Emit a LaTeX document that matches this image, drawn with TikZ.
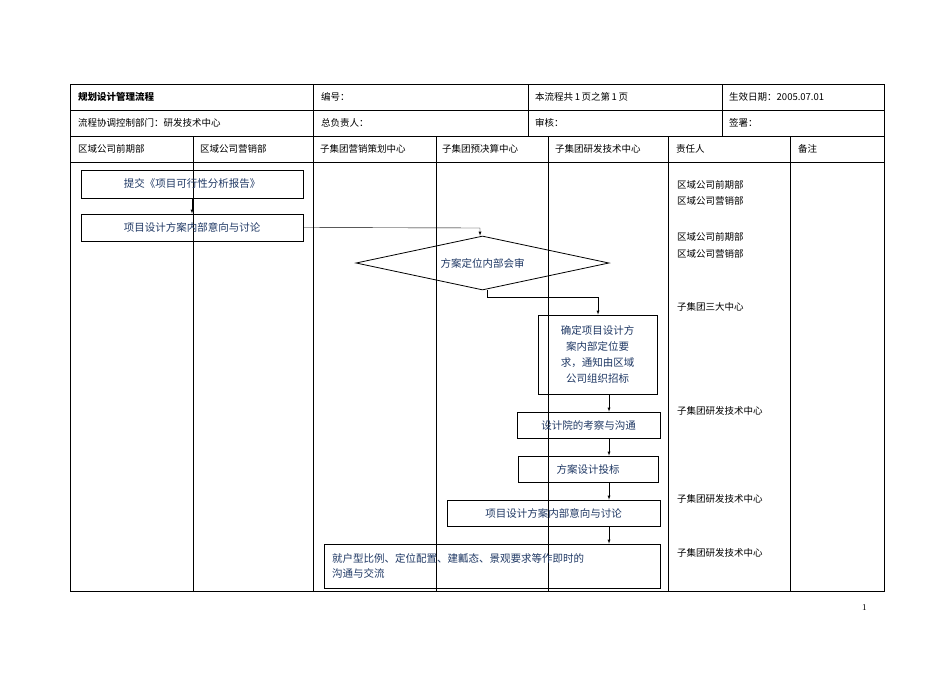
\documentclass[tikz,border=0pt]{standalone}
\usepackage{fontspec}
\setmainfont{Liberation Serif}
\newfontfamily\cjk{Noto Sans CJK SC}
\usetikzlibrary{shapes.geometric}
\definecolor{flowblue}{RGB}{31,56,100}
\tikzset{
	cell/.style={anchor=west, inner sep=0pt, font=\cjk\fontsize{9.5}{11}\selectfont},
	flowbox/.style={draw, thick, text=flowblue, font=\cjk\fontsize{10.5}{14}\selectfont, inner sep=0pt},
	flowarrow/.style={->, >=latex, thin}
}
\begin{document}
\begin{tikzpicture}[x=1pt, y=-1pt]
	\useasboundingbox (0,0) rectangle (950,672);
	%Table
	\draw[thin] (70,84) rectangle (884,591);
	\foreach \y in {110,136,162} \draw[thin] (70,\y) -- (884,\y);
	\foreach \x in {313,528,722} \draw[thin] (\x,84) -- (\x,136);
	\foreach \x in {193,313,436,548,668,790} \draw[thin] (\x,136) -- (\x,591);
	\node[cell, font=\cjk\bfseries\fontsize{9.5}{11}\selectfont] (title) at (78,97) {规划设计管理流程};
	\node[cell] (code) at (321,97) {编号：};
	\node[cell] (page) at (535,97) {本流程共\,1\,页之第\,1\,页};
	\node[cell] (date) at (729,97) {生效日期：2005.07.01};
	\node[cell] (dept) at (78,123) {流程协调控制部门：研发技术中心};
	\node[cell] (head) at (321,123) {总负责人：};
	\node[cell] (check) at (535,123) {审核：};
	\node[cell] (sign) at (729,123) {签署：};
	\node[cell] (lane1) at (78,149) {区域公司前期部};
	\node[cell] (lane2) at (200,149) {区域公司营销部};
	\node[cell] (lane3) at (320,149) {子集团营销策划中心};
	\node[cell] (lane4) at (442,149) {子集团预决算中心};
	\node[cell] (lane5) at (555,149) {子集团研发技术中心};
	\node[cell] (lane6) at (676,149) {责任人};
	\node[cell] (lane7) at (798,149) {备注};
	%Owners
	\node[cell] (r1) at (677,185) {区域公司前期部};
	\node[cell] (r2) at (677,201) {区域公司营销部};
	\node[cell] (r3) at (677,237) {区域公司前期部};
	\node[cell] (r4) at (677,254) {区域公司营销部};
	\node[cell] (r5) at (677,307) {子集团三大中心};
	\node[cell] (r6) at (677,411) {子集团研发技术中心};
	\node[cell] (r7) at (677,499) {子集团研发技术中心};
	\node[cell] (r8) at (677,553) {子集团研发技术中心};
	\node[cell, font=\fontsize{9}{11}\selectfont] (pg) at (862,608) {1};
	%Flow
	\node[flowbox, minimum width=222pt, minimum height=28pt] (submit) at (192,184) {提交《项目可行性分析报告》};
	\node[flowbox, minimum width=222pt, minimum height=27pt] (discuss) at (192,227.5) {项目设计方案内部意向与讨论};
	\node[flowbox, diamond, aspect=4.7, minimum width=253pt, minimum height=54pt] (review) at (482.5,263) {方案定位内部会审};
	\node[flowbox, minimum width=119pt, minimum height=79pt, align=center, font=\cjk\fontsize{10.5}{16}\selectfont] (confirm) at (597.5,354.5) {确定项目设计方\\案内部定位要\\求，通知由区域\\公司组织招标};
	\node[flowbox, minimum width=143pt, minimum height=26pt] (visit) at (588.5,425) {设计院的考察与沟通};
	\node[flowbox, minimum width=140pt, minimum height=26pt] (bid) at (588,469) {方案设计投标};
	\node[flowbox, minimum width=213pt, minimum height=26pt] (discuss2) at (553.5,513) {项目设计方案内部意向与讨论};
	\node[flowbox, minimum width=336pt, minimum height=44pt, text width=320pt, align=left, font=\cjk\fontsize{10.5}{15}\selectfont] (talk) at (492,566) {就户型比例、定位配置、建瓤态、景观要求等作即时的\\沟通与交流};
	\coordinate (bend1) at (480,228);
	\coordinate (bend2) at (487,297);
	\coordinate (bend3) at (598,297);
	\draw[flowarrow] (submit.south) -- (discuss.north);
	\draw[flowarrow] (discuss.east) -- (bend1) -- (review.north -| bend1);
	\draw[flowarrow] (review.south -| bend2) -- (bend2) -- (bend3) -- (confirm.north -| bend3);
	\draw[flowarrow] (confirm.south -| 609,0) -- (visit.north -| 609,0);
	\draw[flowarrow] (visit.south -| 609,0) -- (bid.north -| 609,0);
	\draw[flowarrow] (bid.south -| 609,0) -- (discuss2.north -| 609,0);
	\draw[flowarrow] (discuss2.south -| 609,0) -- (talk.north -| 609,0);
\end{tikzpicture}
\end{document}
